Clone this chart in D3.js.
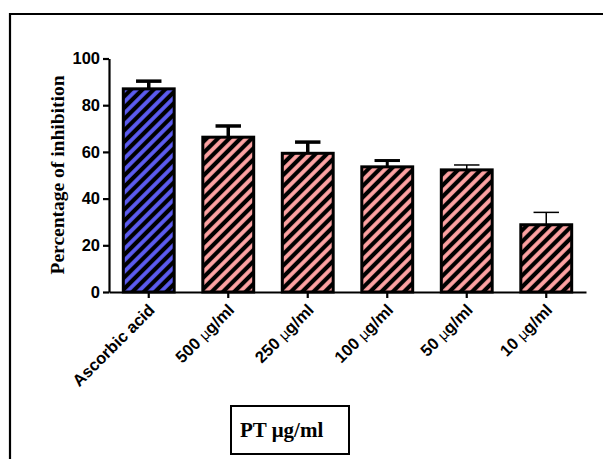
<!DOCTYPE html>
<html>
<head>
<meta charset="utf-8">
<script src="https://cdn.jsdelivr.net/npm/d3@7"></script>
<style>
  body { margin: 0; background: #fff; }
  svg { display: block; }
</style>
</head>
<body>
<div id="chart"></div>
<script>
// data
var categories = ['Ascorbic acid', '500 μg/ml', '250 μg/ml', '100 μg/ml', '50 μg/ml', '10 μg/ml'];
var values = [87.0, 66.3, 59.4, 53.6, 52.3, 28.8];
var errors = [3.3, 4.8, 4.8, 2.7, 2.1, 5.3];
var yTicks = [0, 20, 40, 60, 80, 100];

// styling per bar
var fills = ['#5c5cf2', '#ffa3a3', '#ffa3a3', '#ffa3a3', '#ffa3a3', '#ffa3a3'];
var errWidths = [3.5, 3.5, 3.5, 3, 1.5, 1.5];

var W = 603, H = 459;
var svg = d3.select('#chart').append('svg').attr('width', W).attr('height', H);

// outer frame (top + left only visible)
svg.append('path')
  .attr('d', 'M10,' + (H + 5) + ' L10,14 L' + (W + 5) + ',14')
  .style('fill', 'none').style('stroke', '#000').style('stroke-width', 2.2);

var defs = svg.append('defs');
fills.forEach(function(c, i) {
  var p = defs.append('pattern')
    .attr('id', 'hatch' + i)
    .attr('patternUnits', 'userSpaceOnUse')
    .attr('width', 8).attr('height', 8)
    .attr('patternTransform', 'rotate(45)');
  p.append('rect').attr('width', 8).attr('height', 8).style('fill', c);
  p.append('line').attr('x1', 4).attr('y1', 0).attr('x2', 4).attr('y2', 8)
    .style('stroke', '#000').style('stroke-width', 4.2);
});

var x = d3.scaleBand().domain(categories).range([109, 586])
  .paddingInner(0.36).paddingOuter(0.18);
var y = d3.scaleLinear().domain([0, 100]).range([292, 58.5]);

var g = svg.append('g');

// bars
g.selectAll('rect.bar').data(values).enter().append('rect')
  .attr('class', 'bar')
  .attr('x', function(d, i) { return x(categories[i]); })
  .attr('y', function(d) { return y(d); })
  .attr('width', x.bandwidth())
  .attr('height', function(d) { return y(0) - y(d); })
  .style('fill', function(d, i) { return 'url(#hatch' + i + ')'; })
  .style('stroke', '#000').style('stroke-width', 3);

// error bars (upper only)
var eb = g.selectAll('g.err').data(values).enter().append('g').attr('class', 'err');
eb.append('line')
  .attr('x1', function(d, i) { return x(categories[i]) + x.bandwidth() / 2; })
  .attr('x2', function(d, i) { return x(categories[i]) + x.bandwidth() / 2; })
  .attr('y1', function(d) { return y(d); })
  .attr('y2', function(d, i) { return y(d + errors[i]); })
  .style('stroke', '#000')
  .style('stroke-width', function(d, i) { return errWidths[i]; });
eb.append('line')
  .attr('x1', function(d, i) { return x(categories[i]) + x.bandwidth() / 4; })
  .attr('x2', function(d, i) { return x(categories[i]) + x.bandwidth() * 3 / 4; })
  .attr('y1', function(d, i) { return y(d + errors[i]); })
  .attr('y2', function(d, i) { return y(d + errors[i]); })
  .style('stroke', '#000')
  .style('stroke-width', function(d, i) { return errWidths[i]; });

// y axis
var yAxis = g.append('g').attr('transform', 'translate(109,0)')
  .call(d3.axisLeft(y).tickValues(yTicks).tickSize(6).tickPadding(3).tickSizeOuter(0));
yAxis.select('.domain').style('stroke-width', 2.2);
yAxis.selectAll('.tick line').style('stroke-width', 2.2);
yAxis.selectAll('text')
  .style('font-family', 'Liberation Sans, Arial, sans-serif')
  .style('font-weight', 'bold').style('font-size', '16.5px').style('fill', '#000');

// x axis
var xAxis = g.append('g').attr('transform', 'translate(0,292)')
  .call(d3.axisBottom(x).tickSize(6).tickSizeOuter(0).tickFormat(''));
xAxis.select('.domain').style('stroke-width', 2.2);
xAxis.selectAll('.tick line').style('stroke-width', 2.2);

// rotated category labels, micro sign drawn lighter like the symbol font
var lab = g.selectAll('text.cat').data(categories).enter().append('text')
  .attr('class', 'cat')
  .attr('transform', function(d) {
    return 'translate(' + (x(d) + x.bandwidth() / 2 + 7) + ',311) rotate(-45)';
  })
  .attr('text-anchor', 'end')
  .style('font-family', 'Liberation Sans, Arial, sans-serif')
  .style('font-weight', 'bold').style('font-size', '16.5px');
lab.each(function(d) {
  var t = d3.select(this);
  var parts = d.split('μ');
  t.append('tspan').text(parts[0]);
  if (parts.length > 1) {
    t.append('tspan').style('font-weight', 'normal').style('font-family', 'DejaVu Sans, sans-serif')
      .style('font-size', '14px').text('μ');
    t.append('tspan').text(parts[1]);
  }
});

// y axis title
svg.append('text')
  .attr('transform', 'translate(64,175) rotate(-90)')
  .attr('text-anchor', 'middle')
  .style('font-family', 'Liberation Serif, Times New Roman, serif')
  .style('font-weight', 'bold').style('font-size', '19.5px')
  .text('Percentage of inhibition');

// boxed x title
svg.append('rect')
  .attr('x', 231).attr('y', 406).attr('width', 118).attr('height', 48)
  .style('fill', 'none').style('stroke', '#000').style('stroke-width', 2);
svg.append('text')
  .attr('x', 240).attr('y', 437)
  .style('font-family', 'Liberation Serif, Times New Roman, serif')
  .style('font-weight', 'bold').style('font-size', '21px')
  .text('PT μg/ml');
</script>
</body>
</html>
